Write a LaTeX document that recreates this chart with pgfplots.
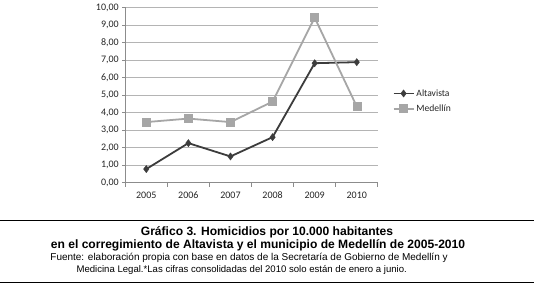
\documentclass[border=0pt]{standalone}
\usepackage{fontspec}
\setmainfont{Carlito}
\newfontfamily\arialf{Liberation Sans}
\usepackage{pgfplots}
\pgfplotsset{compat=1.18}
\definecolor{alta}{HTML}{3C3C3C}
\definecolor{mede}{HTML}{A6A6A6}
\definecolor{gridc}{HTML}{B4B4B4}
\definecolor{axc}{HTML}{8C8C8C}
\begin{document}
\begin{tikzpicture}
\path[fill=white] (0pt,0pt) rectangle (534pt,284pt);
\begin{axis}[at={(125pt,101pt)}, anchor=south west, scale only axis,
  width=253pt, height=175.5pt,
  xmin=-0.5, xmax=5.5, ymin=0, ymax=10,
  ytick={0,1,...,10},
  xtick={0,...,5}, xticklabels={2005,2006,2007,2008,2009,2010},
  minor xtick={-0.5,0.5,...,5.5},
  axis x line*=bottom, axis y line*=left,
  axis line style={-, draw=axc, line width=0.8pt},
  tick align=outside,
  major tick length=3pt, minor tick length=4pt,
  x tick style={draw=none},
  minor x tick style={draw=axc, line width=0.8pt},
  y tick style={draw=axc, line width=0.8pt},
  ymajorgrids, major grid style={draw=gridc, line width=0.8pt},
  tick label style={font=\fontsize{10}{12}\selectfont, text=black!85},
  /pgf/number format/assume math mode=true,
  yticklabel style={/pgf/number format/.cd, fixed, fixed zerofill, precision=2, use comma, 1000 sep={}},
  xticklabel style={yshift=-2pt, text height=7pt, text depth=0pt},
  clip=false,
  legend style={at={(axis description cs:1.058,0.466)}, anchor=west, draw=none, fill=none,
    font=\fontsize{9.6}{11}\selectfont, inner sep=0pt, row sep=3pt, text=black!85},
  legend cell align=left,
  legend image code/.code={\draw[mark repeat=2,mark phase=2] plot coordinates {(0pt,0pt)(10pt,0pt)(20pt,0pt)};},
]
\addplot[color=alta, line width=1.8pt, mark=diamond*, mark size=3.6pt, mark options={line width=0.4pt}]
  coordinates {(0,0.78) (1,2.26) (2,1.50) (3,2.60) (4,6.82) (5,6.88)};
\addlegendentry{Altavista}
\addplot[color=mede, line width=1.8pt, mark=square*, mark size=4pt, mark options={line width=0.4pt}]
  coordinates {(0,3.46) (1,3.66) (2,3.46) (3,4.63) (4,9.42) (5,4.35)};
\addlegendentry{Medellín}
\end{axis}
\draw[line width=0.8pt] (0pt,63pt) -- (534pt,63pt);
\draw[line width=0.8pt] (0pt,0.7pt) -- (534pt,0.7pt);
\node[anchor=base, inner sep=0pt, font=\arialf\fontsize{12.1}{14}\selectfont\bfseries] at (267pt,48.3pt) {Gráfico 3. Homicidios por 10.000 habitantes};
\node[anchor=base, inner sep=0pt, font=\arialf\fontsize{12.1}{14}\selectfont\bfseries] at (258pt,35.5pt) {en el corregimiento de Altavista y el municipio de Medellín de 2005-2010};
\node[anchor=base, inner sep=0pt, font=\arialf\fontsize{10}{11}\selectfont] at (249pt,23pt) {Fuente: elaboración propia con base en datos de la Secretaría de Gobierno de Medellín y};
\node[anchor=base, inner sep=0pt, font=\arialf\fontsize{9.6}{11}\selectfont] at (241.7pt,11pt) {Medicina Legal.*Las cifras consolidadas del 2010 solo están de enero a junio.};
\end{tikzpicture}
\end{document}
